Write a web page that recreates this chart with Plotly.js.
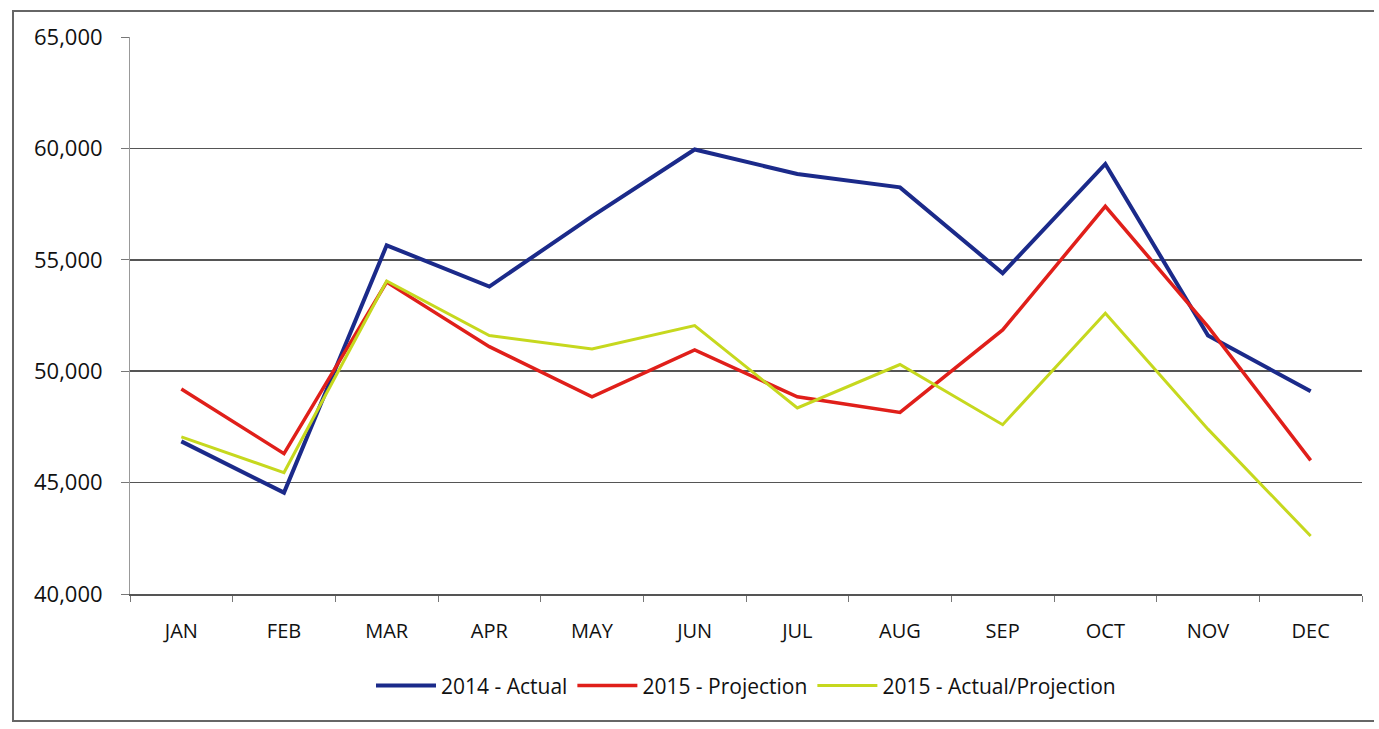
<!DOCTYPE html>
<html>
<head>
<meta charset="utf-8">
<script src="https://cdn.plot.ly/plotly-3.0.1.min.js"></script>
<style>
  html, body { margin: 0; padding: 0; background: #fff; }
  #chart { width: 1379px; height: 729px; }
  #frame { position: absolute; left: 12px; top: 10px; width: 1360px; height: 708px;
           border: 2px solid #666; border-right: none; pointer-events: none; }
</style>
</head>
<body>
<div id="chart"></div>
<div id="frame"></div>
<script>
const months = ["JAN","FEB","MAR","APR","MAY","JUN","JUL","AUG","SEP","OCT","NOV","DEC"];
const actual2014 = [46850, 44550, 55650, 53800, 56950, 59950, 58850, 58250, 54400, 59300, 51600, 49100];
const projection2015 = [49200, 46300, 54000, 51100, 48850, 50950, 48850, 48150, 51850, 57400, 52000, 46000];
const actualProj2015 = [47050, 45450, 54050, 51600, 51000, 52050, 48350, 50300, 47600, 52600, 47400, 42600];
const yTicks = [40000, 45000, 50000, 55000, 60000, 65000];

const font = "'Open Sans', Lato, sans-serif";

const traces = [
  { x: months, y: actual2014, name: "2014 - Actual", type: "scatter", mode: "lines",
    line: { color: "#1b2a8a", width: 4 } },
  { x: months, y: projection2015, name: "2015 - Projection", type: "scatter", mode: "lines",
    line: { color: "#e01f1a", width: 3.5 } },
  { x: months, y: actualProj2015, name: "2015 - Actual/Projection", type: "scatter", mode: "lines",
    line: { color: "#c6d81e", width: 3 } }
];

const layout = {
  width: 1379, height: 729,
  margin: { l: 130, r: 17, t: 37, b: 135 },
  paper_bgcolor: "#fff", plot_bgcolor: "#fff",
  font: { family: font, size: 21, color: "#111" },
  showlegend: true,
  legend: { orientation: "h", x: 0.5, xanchor: "center", y: -0.165, yanchor: "middle",
            font: { family: font, size: 21, color: "#111" }, traceorder: "normal",
            itemwidth: 60 },
  xaxis: {
    type: "category", range: [-0.5, 11.5],
    showgrid: false, zeroline: false,
    showline: true, linecolor: "#555", linewidth: 1.5,
    ticks: "outside", tickson: "boundaries", ticklen: 6, tickcolor: "#777",
    tickfont: { family: font, size: 20, color: "#111" },
    ticklabelstandoff: 18,
    fixedrange: true
  },
  yaxis: {
    range: [40000, 65000], tickvals: yTicks, tickformat: ",",
    showgrid: true, gridcolor: "#555", gridwidth: 1.5,
    zeroline: false, showline: true, linecolor: "#999", linewidth: 1,
    ticks: "outside", ticklen: 8, tickcolor: "#777",
    tickfont: { family: font, size: 22, color: "#111" },
    ticklabelstandoff: 14,
    fixedrange: true
  }
};

Plotly.newPlot("chart", traces, layout, { displayModeBar: false, staticPlot: true });
</script>
</body>
</html>
